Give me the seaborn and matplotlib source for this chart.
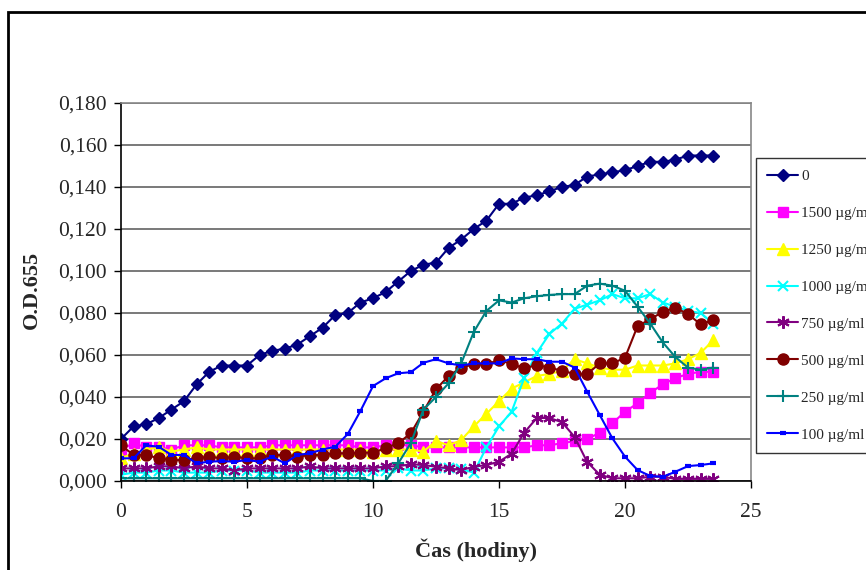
import matplotlib
matplotlib.use("Agg")
import matplotlib.pyplot as plt
import pandas as pd
import seaborn as sns
from matplotlib.ticker import FuncFormatter, MultipleLocator
from matplotlib.patches import Rectangle

sns.set_style("white")
plt.rcParams['font.family'] = ['Liberation Serif', 'DejaVu Serif']

# time axis (hours)
hours = [0.0, 0.5, 1.0, 1.5, 2.0, 2.5, 3.0, 3.5, 4.0, 4.5, 5.0, 5.5,
         6.0, 6.5, 7.0, 7.5, 8.0, 8.5, 9.0, 9.5, 10.0, 10.5, 11.0, 11.5,
         12.0, 12.5, 13.0, 13.5, 14.0, 14.5, 15.0, 15.5, 16.0, 16.5, 17.0, 17.5,
         18.0, 18.5, 19.0, 19.5, 20.0, 20.5, 21.0, 21.5, 22.0, 22.5, 23.0, 23.5]

# O.D.655 readings per concentration
od_0 = [0.020, 0.026, 0.027, 0.030, 0.034, 0.038, 0.046, 0.052, 0.055, 0.055, 0.055, 0.060,
        0.062, 0.063, 0.065, 0.069, 0.073, 0.079, 0.080, 0.085, 0.087, 0.090, 0.095, 0.100,
        0.103, 0.104, 0.111, 0.115, 0.120, 0.124, 0.132, 0.132, 0.135, 0.136, 0.138, 0.140,
        0.141, 0.145, 0.146, 0.147, 0.148, 0.150, 0.152, 0.152, 0.153, 0.155, 0.155, 0.155]
od_1500 = [0.015, 0.018, 0.016, 0.016, 0.015, 0.017, 0.017, 0.017, 0.016, 0.016, 0.016, 0.016,
           0.017, 0.017, 0.017, 0.017, 0.017, 0.017, 0.017, 0.016, 0.016, 0.017, 0.017, 0.017,
           0.016, 0.016, 0.016, 0.016, 0.016, 0.016, 0.016, 0.016, 0.016, 0.017, 0.017, 0.018,
           0.019, 0.020, 0.023, 0.0275, 0.033, 0.037, 0.042, 0.046, 0.049, 0.051, 0.052, 0.052]
od_1250 = [0.011, 0.013, 0.015, 0.016, 0.014, 0.015, 0.016, 0.015, 0.015, 0.015, 0.015, 0.015,
           0.015, 0.015, 0.015, 0.015, 0.015, 0.015, 0.015, 0.015, 0.014, 0.015, 0.015, 0.015,
           0.014, 0.019, 0.017, 0.0195, 0.026, 0.032, 0.038, 0.044, 0.047, 0.050, 0.051, 0.0525,
           0.058, 0.056, 0.054, 0.053, 0.053, 0.055, 0.055, 0.055, 0.056, 0.058, 0.061, 0.067]
od_1000 = [0.003, 0.004, 0.004, 0.005, 0.005, 0.004, 0.004, 0.004, 0.005, 0.005, 0.005, 0.004,
           0.004, 0.004, 0.004, 0.005, 0.005, 0.005, 0.005, 0.005, 0.005, 0.005, 0.006, 0.005,
           0.005, 0.006, 0.006, 0.0055, 0.004, 0.016, 0.026, 0.033, 0.049, 0.061, 0.070, 0.075,
           0.082, 0.084, 0.086, 0.089, 0.087, 0.087, 0.089, 0.085, 0.083, 0.081, 0.080, 0.075]
od_750 = [0.006, 0.006, 0.006, 0.007, 0.007, 0.006, 0.007, 0.006, 0.006, 0.005, 0.006, 0.006,
          0.006, 0.006, 0.006, 0.007, 0.006, 0.006, 0.006, 0.006, 0.006, 0.007, 0.007, 0.008,
          0.0076, 0.0068, 0.006, 0.0052, 0.0068, 0.0076, 0.0092, 0.013, 0.023, 0.030, 0.030, 0.028,
          0.021, 0.009, 0.003, 0.0013, 0.0013, 0.0013, 0.002, 0.002, 0.001, 0.001, 0.001, 0.001]
od_500 = [0.017, 0.0124, 0.0124, 0.0108, 0.010, 0.010, 0.0108, 0.0116, 0.0108, 0.0116, 0.0108, 0.0108,
          0.0124, 0.0124, 0.0116, 0.0124, 0.0124, 0.0132, 0.0132, 0.0135, 0.0135, 0.0156, 0.018, 0.0227,
          0.033, 0.0437, 0.050, 0.054, 0.0556, 0.0556, 0.0576, 0.0557, 0.0537, 0.0552, 0.054, 0.0525,
          0.051, 0.051, 0.056, 0.056, 0.0587, 0.0738, 0.077, 0.0806, 0.0825, 0.0795, 0.0746, 0.0767]
od_250 = [0.0013, 0.0013, 0.0013, 0.0013, 0.0013, 0.0013, 0.0013, 0.0013, 0.0013, 0.0013, 0.0013, 0.0013,
          0.0013, 0.0013, 0.0013, 0.0013, 0.0013, 0.0013, 0.0013, 0.0013, 0.000, 0.000, 0.0084, 0.018,
          0.034, 0.040, 0.0465, 0.056, 0.071, 0.081, 0.086, 0.085, 0.087, 0.088, 0.0886, 0.089,
          0.089, 0.093, 0.094, 0.093, 0.0906, 0.083, 0.075, 0.066, 0.059, 0.054, 0.053, 0.054]
od_100 = [0.0108, 0.0108, 0.017, 0.0163, 0.0124, 0.0124, 0.0084, 0.0092, 0.0095, 0.0092, 0.010, 0.0092,
          0.0116, 0.0084, 0.0124, 0.0132, 0.015, 0.0163, 0.0224, 0.0333, 0.0452, 0.0489, 0.0513, 0.0518,
          0.0563, 0.058, 0.056, 0.055, 0.056, 0.056, 0.056, 0.0584, 0.058, 0.058, 0.0568, 0.0568,
          0.054, 0.0425, 0.0314, 0.0203, 0.0116, 0.0052, 0.0024, 0.002, 0.0044, 0.0071, 0.0076, 0.0084]

labels = ["0", "1500 µg/ml", "1250 µg/ml", "1000 µg/ml",
          "750 µg/ml", "500 µg/ml", "250 µg/ml", "100 µg/ml"]
values = [od_0, od_1500, od_1250, od_1000, od_750, od_500, od_250, od_100]

# long-form table for seaborn
df = pd.concat([pd.DataFrame({"hours": hours, "od": v, "series": lab})
                for lab, v in zip(labels, values)], ignore_index=True)

# (color, marker, markersize, markeredgewidth)
styles = {
    "0": ("#000080", "D", 6, 1),
    "1500 µg/ml": ("#FF00FF", "s", 7, 1),
    "1250 µg/ml": ("#FFFF00", "^", 8, 1),
    "1000 µg/ml": ("#00FFFF", "x", 7, 1.5),
    "750 µg/ml": ("#800080", (6, 2, 0), 9, 1.5),
    "500 µg/ml": ("#800000", "o", 8, 1),
    "250 µg/ml": ("#008080", "+", 9, 1.5),
    "100 µg/ml": ("#0000FF", "_", 5, 3),
}

fig = plt.figure(figsize=(8.66, 5.70), dpi=100)
ax = fig.add_axes([121 / 866, 1 - 481 / 570, 630 / 866, 378 / 570])

for lab in labels:
    color, marker, ms, mew = styles[lab]
    sns.lineplot(data=df[df["series"] == lab], x="hours", y="od", ax=ax,
                 color=color, marker=marker, markersize=ms,
                 markeredgewidth=mew, markeredgecolor=color,
                 linewidth=1.5, label=lab, estimator=None, sort=False)

ax.set_xlim(0, 25)
ax.set_ylim(0, 0.18)
ax.xaxis.set_major_locator(MultipleLocator(5))
ax.yaxis.set_major_locator(MultipleLocator(0.02))
ax.yaxis.set_major_formatter(FuncFormatter(lambda v, _: f"{v:.3f}".replace(".", ",")))

ax.yaxis.grid(True, color="#555555", linewidth=1.1)
ax.xaxis.grid(False)
ax.set_axisbelow(True)

for side in ["left", "bottom"]:
    ax.spines[side].set_color("black")
    ax.spines[side].set_linewidth(1.2)
for side in ["top", "right"]:
    ax.spines[side].set_color("#888888")
    ax.spines[side].set_linewidth(1.2)

ax.tick_params(axis="both", direction="out", length=5, width=1, color="black",
               labelsize=15.5, left=True, bottom=True)
ax.tick_params(axis="x", pad=11)
ax.tick_params(axis="y", pad=5)

ax.set_xlabel("Čas (hodiny)", fontsize=16, fontweight="bold")
ax.xaxis.set_label_coords(0.5635, -0.152)
ax.set_ylabel("O.D.655", fontsize=16, fontweight="bold")
ax.yaxis.set_label_coords(-0.125, 0.505)

handles, labs = ax.get_legend_handles_labels()
leg = ax.legend(handles, labs, loc="upper left",
                bbox_to_anchor=(756 / 866, 1 - 158 / 570), bbox_transform=fig.transFigure,
                frameon=True, fancybox=False, edgecolor="black", fontsize=11,
                labelspacing=1.52, handlelength=2.0, handletextpad=0.2,
                borderpad=0.75, borderaxespad=0)
leg.get_frame().set_linewidth(1.0)

# outer chart frame (runs off the right and bottom edge)
fig.patches.append(Rectangle((8 / 866, -0.1), 1.2, 1 - 12 / 570 + 0.1,
                             transform=fig.transFigure, fill=False,
                             edgecolor="black", linewidth=2))

fig.savefig("out.png", dpi=100)
